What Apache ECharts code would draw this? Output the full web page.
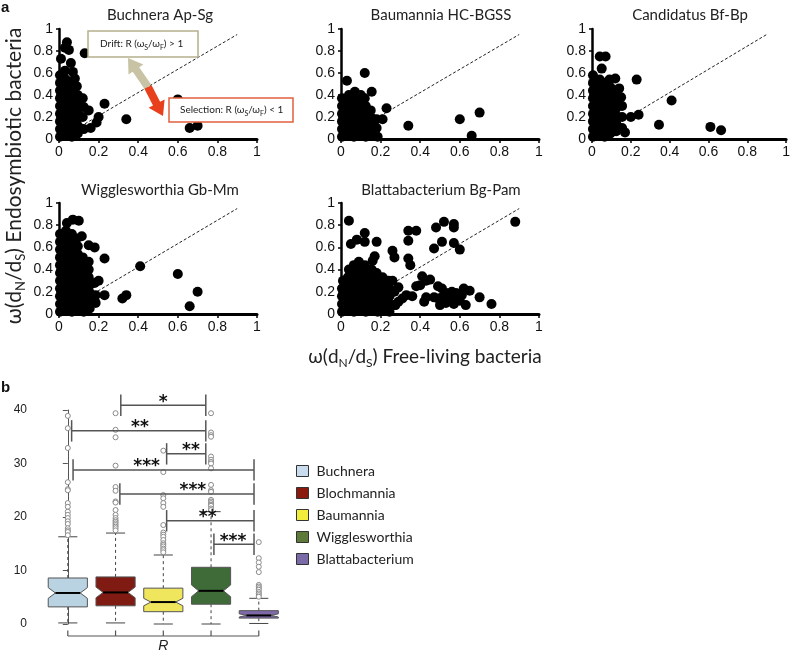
<!DOCTYPE html>
<html>
<head>
<meta charset="utf-8">
<script src="https://cdn.jsdelivr.net/npm/echarts@6/dist/echarts.min.js"></script>
<style>
  html, body { margin: 0; padding: 0; background: #fff; }
  #chart { width: 793px; height: 653px; }
</style>
</head>
<body>
<div id="chart"></div>
<script>
// ---- panel a: dN/dS scatter data ----
var panelTitles = ['Buchnera Ap-Sg', 'Baumannia HC-BGSS', 'Candidatus Bf-Bp', 'Wigglesworthia Gb-Mm', 'Blattabacterium Bg-Pam'];
var diagLine = [[0, 0], [0.9, 0.95]];

var buchneraPts = [
  [0.005,0.02],[0.005,0.09],[0.005,0.16],[0.005,0.23],[0.005,0.30],[0.005,0.37],[0.005,0.44],[0.005,0.51],[0.005,0.58],[0.01,0.73],
  [0.035,0.05],[0.035,0.12],[0.035,0.19],[0.035,0.26],[0.035,0.33],[0.035,0.40],[0.035,0.47],[0.035,0.54],[0.03,0.62],[0.03,0.83],
  [0.065,0.02],[0.065,0.09],[0.065,0.16],[0.065,0.23],[0.065,0.30],[0.065,0.37],[0.065,0.44],[0.06,0.51],[0.07,0.61],[0.06,0.69],[0.05,0.81],[0.04,0.88],
  [0.095,0.05],[0.095,0.12],[0.095,0.19],[0.095,0.26],[0.095,0.33],[0.095,0.40],[0.09,0.48],[0.08,0.55],
  [0.125,0.09],[0.12,0.2],[0.125,0.29],[0.12,0.37],[0.13,0.78],
  [0.15,0.26],[0.16,0.1],[0.19,0.15],[0.2,0.2],[0.23,0.32],[0.34,0.18],[0.6,0.36],[0.66,0.1],[0.7,0.12]
];
var baumanniaPts = [
  [0.005,0.02],[0.005,0.09],[0.005,0.16],[0.005,0.23],[0.005,0.30],[0.005,0.37],
  [0.035,0.05],[0.035,0.12],[0.035,0.19],[0.035,0.26],[0.035,0.33],[0.04,0.40],[0.03,0.53],
  [0.065,0.02],[0.065,0.09],[0.065,0.16],[0.065,0.23],[0.065,0.30],[0.065,0.37],[0.07,0.43],
  [0.095,0.05],[0.095,0.12],[0.095,0.19],[0.095,0.26],[0.095,0.33],[0.1,0.40],
  [0.125,0.02],[0.125,0.09],[0.125,0.16],[0.125,0.23],[0.125,0.30],[0.12,0.37],[0.12,0.6],
  [0.155,0.05],[0.155,0.12],[0.155,0.19],[0.15,0.26],[0.155,0.43],
  [0.185,0.02],[0.18,0.1],[0.18,0.18],
  [0.21,0.18],[0.23,0.28],[0.34,0.12],[0.6,0.18],[0.66,0.03],[0.7,0.24]
];
var candidatusPts = [
  [0.005,0.02],[0.005,0.09],[0.005,0.16],[0.005,0.23],[0.005,0.30],[0.005,0.37],[0.005,0.44],[0.005,0.51],[0.005,0.58],
  [0.035,0.05],[0.035,0.12],[0.035,0.19],[0.035,0.26],[0.035,0.33],[0.035,0.40],[0.035,0.47],[0.04,0.54],[0.05,0.64],[0.04,0.75],
  [0.065,0.02],[0.065,0.09],[0.065,0.16],[0.065,0.23],[0.065,0.30],[0.065,0.37],[0.065,0.44],[0.065,0.51],[0.07,0.75],
  [0.095,0.05],[0.095,0.12],[0.095,0.19],[0.095,0.26],[0.095,0.33],[0.095,0.40],[0.095,0.47],[0.09,0.54],
  [0.125,0.07],[0.125,0.14],[0.125,0.21],[0.125,0.28],[0.125,0.35],[0.12,0.42],[0.12,0.55],
  [0.155,0.1],[0.155,0.2],[0.155,0.3],[0.15,0.38],[0.14,0.46],
  [0.17,0.06],[0.2,0.2],[0.24,0.22],[0.23,0.54],[0.345,0.13],[0.41,0.35],[0.61,0.11],[0.665,0.08]
];
var wigglesworthiaPts = [
  [0.005,0.02],[0.005,0.09],[0.005,0.16],[0.005,0.23],[0.005,0.30],[0.005,0.37],[0.005,0.44],[0.005,0.51],[0.005,0.58],[0.005,0.65],[0.005,0.72],
  [0.035,0.05],[0.035,0.12],[0.035,0.19],[0.035,0.26],[0.035,0.33],[0.035,0.40],[0.035,0.47],[0.035,0.54],[0.035,0.61],[0.035,0.68],[0.035,0.75],[0.04,0.82],
  [0.065,0.02],[0.065,0.09],[0.065,0.16],[0.065,0.23],[0.065,0.30],[0.065,0.37],[0.065,0.44],[0.065,0.51],[0.065,0.58],[0.065,0.65],[0.065,0.72],[0.07,0.85],
  [0.095,0.05],[0.095,0.12],[0.095,0.19],[0.095,0.26],[0.095,0.33],[0.095,0.40],[0.095,0.47],[0.095,0.54],[0.095,0.61],[0.09,0.68],[0.1,0.84],
  [0.125,0.02],[0.125,0.09],[0.125,0.16],[0.125,0.23],[0.125,0.30],[0.125,0.37],[0.125,0.44],[0.12,0.51],[0.115,0.7],
  [0.155,0.05],[0.155,0.12],[0.155,0.19],[0.155,0.26],[0.15,0.33],[0.15,0.40],[0.15,0.47],[0.15,0.62],
  [0.185,0.1],[0.185,0.17],[0.18,0.28],[0.18,0.6],
  [0.2,0.3],[0.23,0.5],[0.23,0.17],[0.32,0.14],[0.34,0.17],[0.41,0.43],[0.6,0.36],[0.66,0.07],[0.7,0.2]
];
var blattabacteriumPts = [
  [0.005,0.02],[0.005,0.09],[0.005,0.16],[0.005,0.23],[0.01,0.3],
  [0.035,0.05],[0.035,0.12],[0.035,0.19],[0.035,0.26],[0.035,0.33],[0.04,0.40],
  [0.065,0.02],[0.065,0.09],[0.065,0.16],[0.065,0.23],[0.065,0.30],[0.065,0.37],[0.065,0.44],
  [0.095,0.05],[0.095,0.12],[0.095,0.19],[0.095,0.26],[0.095,0.33],[0.095,0.40],[0.09,0.47],
  [0.125,0.02],[0.125,0.09],[0.125,0.16],[0.125,0.23],[0.125,0.30],[0.125,0.37],[0.12,0.44],
  [0.155,0.05],[0.155,0.12],[0.155,0.19],[0.155,0.26],[0.155,0.33],[0.155,0.40],[0.16,0.48],
  [0.185,0.02],[0.185,0.09],[0.185,0.16],[0.185,0.23],[0.185,0.30],[0.18,0.37],[0.17,0.52],
  [0.215,0.05],[0.215,0.12],[0.215,0.19],[0.215,0.26],[0.21,0.33],
  [0.245,0.02],[0.245,0.09],[0.245,0.16],[0.245,0.23],[0.24,0.3],
  [0.275,0.08],[0.27,0.2],
  [0.04,0.84],[0.05,0.63],[0.08,0.67],[0.12,0.73],[0.12,0.65],[0.18,0.65],[0.26,0.57],[0.27,0.51],
  [0.34,0.75],[0.38,0.75],[0.34,0.66],[0.34,0.5],[0.35,0.44],[0.41,0.34],[0.4,0.26],[0.43,0.3],[0.38,0.25],[0.45,0.31],
  [0.48,0.78],[0.52,0.83],[0.57,0.81],[0.57,0.78],[0.47,0.59],[0.51,0.65],[0.57,0.64],[0.6,0.58],
  [0.49,0.25],[0.51,0.23],[0.53,0.19],[0.56,0.2],[0.58,0.19],[0.61,0.17],[0.62,0.23],
  [0.51,0.15],[0.54,0.16],[0.57,0.09],[0.56,0.14],[0.63,0.08],[0.65,0.21],[0.7,0.15],[0.76,0.09],[0.88,0.83],
  [0.49,0.14],[0.43,0.15],[0.33,0.17],[0.36,0.16],[0.42,0.11],[0.31,0.14],[0.29,0.11],[0.27,0.08],[0.29,0.24],[0.26,0.3],
  [0.47,0.15],[0.5,0.08],[0.53,0.1],[0.6,0.12]
];

// ---- panel b: R boxplots ----
var speciesNames = ['Buchnera', 'Blochmannia', 'Baumannia', 'Wigglesworthia', 'Blattabacterium'];
// [lower whisker, Q1, median, Q3, upper whisker]
var boxStats = [
  [0.2, 3.2, 5.8, 8.6, 16.3],
  [0.2, 3.4, 5.9, 8.8, 17.0],
  [0.0, 2.3, 4.1, 6.7, 12.9],
  [0.0, 3.7, 6.2, 10.6, 21.0],
  [0.1, 1.1, 1.6, 2.5, 4.8]
];
// notch [low, high]
var notches = [[4.8, 6.8], [4.9, 6.9], [3.4, 4.8], [5.1, 7.3], [1.3, 1.9]];
var outliers = [
  [38.9, 36.6, 32.9, 26.5, 25.2, 25.0, 22.6, 21.9, 21.0, 20.4, 19.8, 19.2, 18.7, 17.9, 17.5, 17.2, 16.6],
  [39.4, 36.3, 34.9, 29.6, 25.6, 24.9, 22.9, 22.7, 21.3, 20.4, 19.8, 19.4, 19.1, 18.8, 18.5, 18.2, 17.9, 17.5],
  [32.4, 28.4, 24.1, 23.5, 22.6, 21.9, 18.5, 17.1, 16.7, 16.3, 15.7, 15.1, 14.8, 14.5, 14.1, 13.8, 13.4],
  [40.9, 39.4, 35.8, 35.3, 35.0, 31.3, 30.7, 30.3, 30.0, 29.1, 26.0, 25.0, 24.7, 23.2, 22.9, 22.6, 22.3, 22.1, 21.6, 21.3],
  [15.3, 12.3, 11.5, 10.7, 9.7, 7.3, 7.0, 6.7, 6.4, 6.0, 5.7, 5.4, 5.1]
];
// significance brackets: [from, to, height, label x]
var brackets = [
  [1.11, 2.89, 40.9, 2.0],
  [0.08, 2.89, 36.1, 1.51],
  [2.07, 2.89, 31.8, 2.58],
  [0.11, 3.9, 28.8, 1.65],
  [1.09, 3.9, 24.3, 2.62],
  [2.07, 3.9, 19.3, 2.93],
  [3.06, 3.9, 14.9, 3.46]
];
var bracketStars = ['*', '**', '**', '***', '***', '**', '***'];
var rTicks = [0, 1, 2, 3, 4];

var boxColors = ['#B9D3E3', '#7F1B12', '#F0E65E', '#3E6B38', '#7E69A8'];
var legendColors = ['#C8DCEE', '#8B1A0E', '#F2EC3C', '#5E7A3A', '#7B6AA8'];

var chart = echarts.init(document.getElementById('chart'));

var grids = [
  { left: 59, top: 29, width: 198, height: 110 },
  { left: 341, top: 29, width: 198, height: 110 },
  { left: 592, top: 29, width: 195, height: 110 },
  { left: 59, top: 203, width: 198, height: 111 },
  { left: 341, top: 203, width: 198, height: 111 },
  { left: 32, top: 410, width: 262.6, height: 214 }
];
var scatterSets = [buchneraPts, baumanniaPts, candidatusPts, wigglesworthiaPts, blattabacteriumPts];

var xAxes = [], yAxes = [], series = [];
for (var i = 0; i < 5; i++) {
  xAxes.push({
    gridIndex: i, type: 'value', min: 0, max: 1, interval: 0.2,
    axisLine: { lineStyle: { color: '#000', width: 3 } },
    axisTick: { length: 4, lineStyle: { color: '#000', width: 1.5 } },
    axisLabel: { margin: 6, fontSize: 14, color: '#111', fontFamily: 'Liberation Sans' },
    splitLine: { show: false }
  });
  yAxes.push({
    gridIndex: i, type: 'value', min: 0, max: 1, interval: 0.2,
    axisLine: { show: true, lineStyle: { color: '#000', width: 2.5 } },
    axisTick: { show: true, length: 3, lineStyle: { color: '#000', width: 1.5 } },
    axisLabel: { margin: 6, fontSize: 14, color: '#111', fontFamily: 'Liberation Sans' },
    splitLine: { show: false }
  });
  series.push({
    type: 'line', xAxisIndex: i, yAxisIndex: i, data: diagLine, symbol: 'none', silent: true,
    lineStyle: { color: '#222', width: 1, type: [3, 2] }, z: 1
  });
  series.push({
    type: 'scatter', xAxisIndex: i, yAxisIndex: i, data: scatterSets[i],
    symbolSize: 10, itemStyle: { color: '#000', opacity: 1 }, z: 3, silent: true
  });
}

xAxes.push({ gridIndex: 5, type: 'value', min: -0.75, max: 4.75, show: false });
yAxes.push({
  gridIndex: 5, type: 'value', min: 0, max: 40, interval: 10,
  axisLine: { show: true, lineStyle: { color: '#555', width: 1 } },
  axisTick: { show: true, length: 5, lineStyle: { color: '#555' } },
  axisLabel: { margin: 5, fontSize: 12, color: '#222', fontFamily: 'Liberation Sans' },
  splitLine: { show: false }
});

function line(a, b, style) {
  return { type: 'line', shape: { x1: a[0], y1: a[1], x2: b[0], y2: b[1] }, style: style };
}

function renderBox(params, api) {
  var x = api.value(0);
  var lo = api.value(1), q1 = api.value(2), md = api.value(3), q3 = api.value(4), hi = api.value(5);
  var nLo = api.value(6), nHi = api.value(7);
  var hw = 0.41, nw = 0.26, cw = 0.2;
  function P(dx, v) { return api.coord([x + dx, v]); }
  var dash = { stroke: '#444', lineWidth: 1, lineDash: [3, 3] };
  var solid = { stroke: '#444', lineWidth: 1 };
  var pts = [P(-hw, q1), P(-hw, nLo), P(-nw, md), P(-hw, nHi), P(-hw, q3),
             P(hw, q3), P(hw, nHi), P(nw, md), P(hw, nLo), P(hw, q1)];
  return {
    type: 'group',
    children: [
      line(P(0, q3), P(0, hi), dash),
      line(P(0, q1), P(0, lo), dash),
      line(P(-cw, hi), P(cw, hi), solid),
      line(P(-cw, lo), P(cw, lo), solid),
      { type: 'polygon', shape: { points: pts }, style: { fill: api.visual('color'), stroke: '#555', lineWidth: 1 } },
      line(P(-nw, md), P(nw, md), { stroke: '#000', lineWidth: 2 })
    ]
  };
}

for (var k = 0; k < 5; k++) {
  series.push({
    type: 'custom', name: speciesNames[k], xAxisIndex: 5, yAxisIndex: 5,
    itemStyle: { color: boxColors[k] },
    data: [[k].concat(boxStats[k], notches[k])],
    renderItem: renderBox, z: 2, silent: true
  });
}

var outlierData = [];
outliers.forEach(function (vals, k) {
  vals.forEach(function (v) { outlierData.push([k, v]); });
});
series.push({
  type: 'scatter', xAxisIndex: 5, yAxisIndex: 5, data: outlierData,
  symbol: 'circle', symbolSize: 5, silent: true,
  itemStyle: { color: '#fff', borderColor: '#8a8a8a', borderWidth: 1, opacity: 1 }, z: 3
});

series.push({
  type: 'custom', xAxisIndex: 5, yAxisIndex: 5, data: brackets, silent: true, z: 4,
  renderItem: function (params, api) {
    var x1 = api.value(0), x2 = api.value(1), y = api.value(2), lx = api.value(3);
    var st = { stroke: '#555', lineWidth: 1.5 };
    var lp = api.coord([lx, y]);
    return {
      type: 'group',
      children: [
        line(api.coord([x1, y]), api.coord([x2, y]), st),
        line(api.coord([x1, y - 2]), api.coord([x1, y + 2]), st),
        line(api.coord([x2, y - 2]), api.coord([x2, y + 2]), st),
        { type: 'text', style: {
          text: bracketStars[params.dataIndex], x: lp[0], y: lp[1] - 3,
          align: 'center', verticalAlign: 'middle',
          fontSize: 17, fontWeight: 'bold', fontFamily: 'DejaVu Sans', fill: '#111'
        } }
      ]
    };
  }
});

series.push({
  type: 'custom', xAxisIndex: 5, yAxisIndex: 5, data: rTicks, silent: true, z: 4,
  renderItem: function (params, api) {
    var x = api.value(0);
    var st = { stroke: '#555', lineWidth: 1.2 };
    var kids = [line(api.coord([x, -2.24]), api.coord([x, -1.2]), st)];
    if (params.dataIndex < rTicks.length - 1) {
      kids.push(line(api.coord([x, -2.24]), api.coord([rTicks[params.dataIndex + 1], -2.24]), st));
    }
    if (params.dataIndex === 2) {
      var p = api.coord([x, -4.2]);
      kids.push({ type: 'text', style: {
        text: 'R', x: p[0], y: p[1], align: 'center', verticalAlign: 'middle',
        fontSize: 14, fontStyle: 'italic', fontFamily: 'Liberation Sans', fill: '#222'
      } });
    }
    return { type: 'group', children: kids };
  }
});

var subRich = function (size, family) {
  return { s: { fontSize: size, lineHeight: size, verticalAlign: 'bottom', fontFamily: family, fill: '#222' } };
};

var graphics = [
  { type: 'text', x: 1, y: 0, style: { text: 'a', fontSize: 15, fontWeight: 'bold', fontFamily: 'Liberation Sans', fill: '#111' } },
  { type: 'text', x: 1, y: 380, style: { text: 'b', fontSize: 15, fontWeight: 'bold', fontFamily: 'Liberation Sans', fill: '#111' } },
  { type: 'text', x: 14, y: 176, rotation: Math.PI / 2, style: {
    text: 'ω(d{s|N}/d{s|S}) Endosymbiotic bacteria', rich: subRich(13, 'Lato'),
    fontSize: 21, lineHeight: 26, fontFamily: 'Lato', fill: '#222', align: 'center', verticalAlign: 'middle' } },
  { type: 'text', x: 425, y: 357, style: {
    text: 'ω(d{s|N}/d{s|S}) Free-living bacteria', rich: subRich(12, 'Lato'),
    fontSize: 19, lineHeight: 24, fontFamily: 'Lato', fill: '#222', align: 'center', verticalAlign: 'middle' } }
];
var titlePos = [[160, 15], [441, 15], [690, 15], [160, 190], [441, 190]];
panelTitles.forEach(function (t, i) {
  graphics.push({ type: 'text', x: titlePos[i][0], y: titlePos[i][1], style: {
    text: t, fontSize: 15, fontFamily: 'Lato', fill: '#222', align: 'center', verticalAlign: 'middle' } });
});
graphics.push(
  { type: 'polygon', z: 100, shape: { points: [[151.3, 84.7], [139.2, 67.2], [143.4, 64.4], [128, 58], [128.5, 74.6], [132.7, 71.8], [144.7, 89.3]] },
    style: { fill: '#C9C3A5' } },
  { type: 'polygon', z: 100, shape: { points: [[151.6, 85.2], [160.1, 101.7], [164.6, 99.4], [163, 116], [148.6, 107.7], [153, 105.4], [144.4, 88.8]] },
    style: { fill: '#E8401C' } },
  { type: 'rect', z: 100, shape: { x: 88, y: 31, width: 110, height: 26 }, style: { fill: '#fff', stroke: '#B5B08C', lineWidth: 1.5 } },
  { type: 'text', z: 101, x: 100, y: 44, style: {
    text: 'Drift: R (ω{s|S}/ω{s|F}) > 1', rich: subRich(7, 'Lato'),
    fontSize: 10, lineHeight: 14, fontFamily: 'Lato', fill: '#222', verticalAlign: 'middle' } },
  { type: 'rect', z: 100, shape: { x: 169, y: 98, width: 124, height: 24 }, style: { fill: '#fff', stroke: '#E0603F', lineWidth: 1.5 } },
  { type: 'text', z: 101, x: 180, y: 110, style: {
    text: 'Selection: R (ω{s|S}/ω{s|F}) < 1', rich: subRich(7, 'Lato'),
    fontSize: 10, lineHeight: 14, fontFamily: 'Lato', fill: '#222', verticalAlign: 'middle' } }
);

chart.setOption({
  animation: false,
  backgroundColor: '#fff',
  grid: grids,
  xAxis: xAxes,
  yAxis: yAxes,
  legend: {
    orient: 'vertical', left: 291, top: 459, itemWidth: 12, itemHeight: 11, itemGap: 8, icon: 'rect',
    itemStyle: { borderColor: '#333', borderWidth: 1 },
    textStyle: { fontSize: 14, lineHeight: 12, fontFamily: 'Lato', color: '#222', padding: [0, 0, 0, 3] },
    data: speciesNames.map(function (n, i) { return { name: n, itemStyle: { color: legendColors[i] } }; })
  },
  graphic: graphics,
  series: series
});
</script>
</body>
</html>
